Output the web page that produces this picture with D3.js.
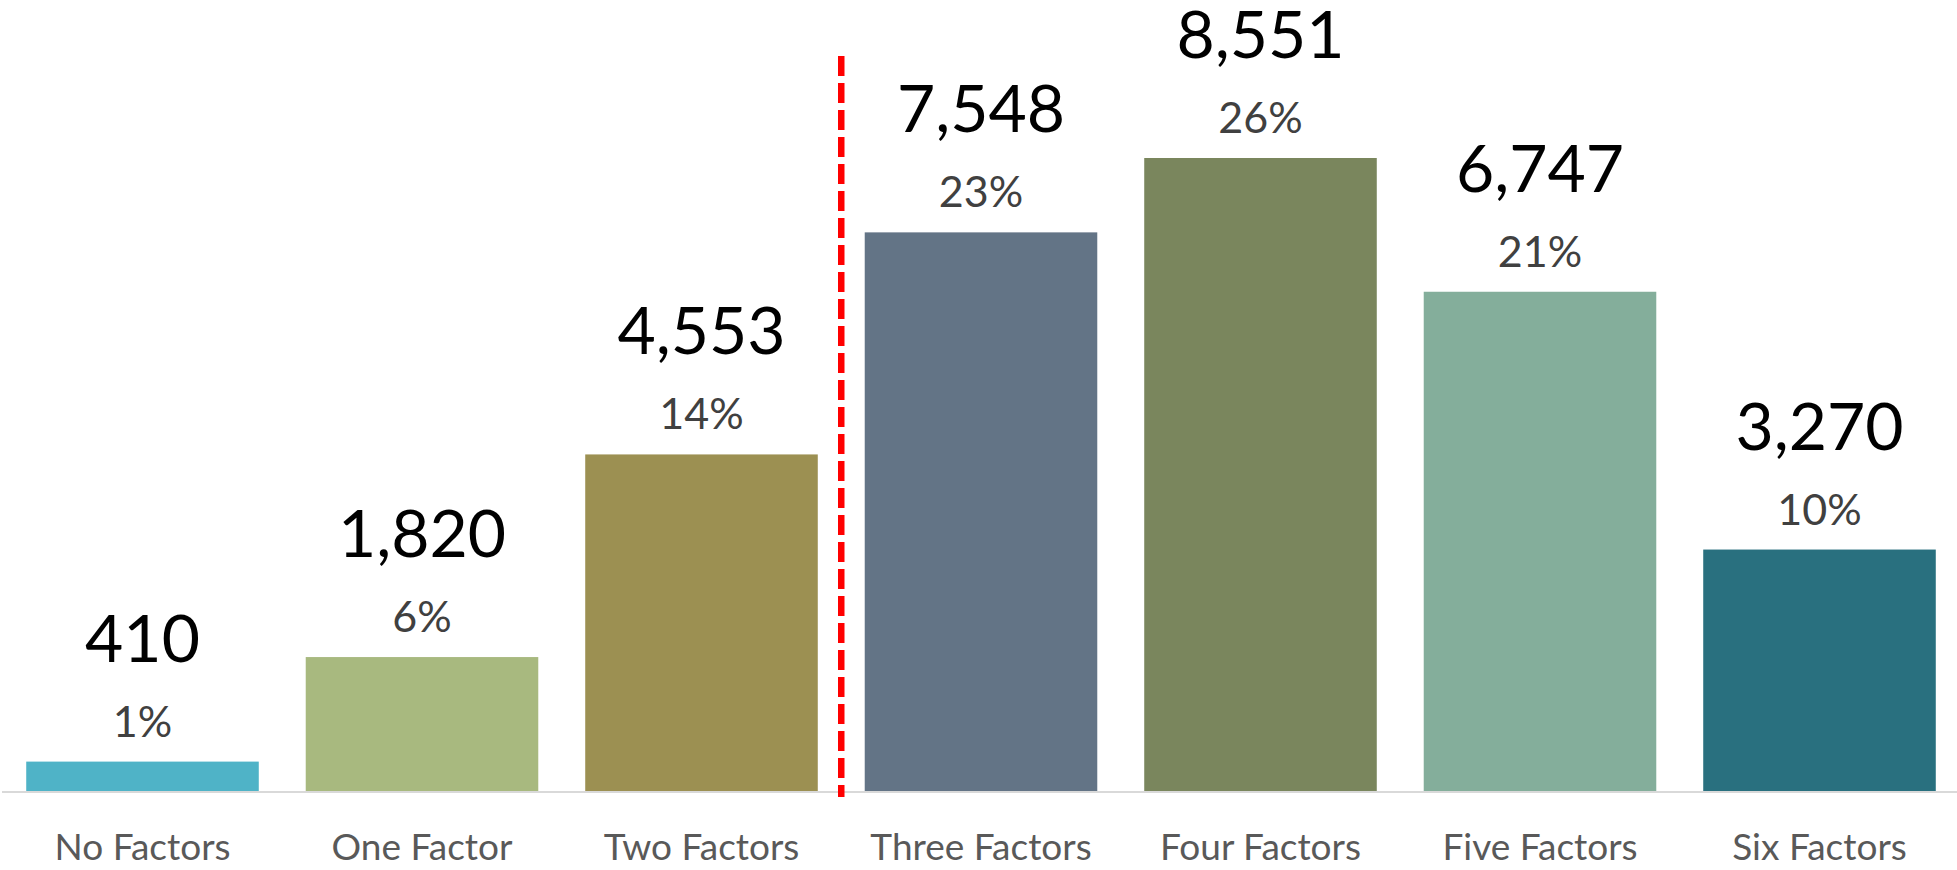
<!DOCTYPE html>
<html>
<head>
<meta charset="utf-8">
<script src="https://cdn.jsdelivr.net/npm/d3@7"></script>
<style>
  html, body { margin: 0; padding: 0; background: #ffffff; }
  svg { display: block; }
  text { font-family: Lato, "Open Sans", "Noto Sans", sans-serif; }
</style>
</head>
<body>
<svg id="chart" width="1957" height="870"></svg>
<script>
// Respondents by number of factors present
const categories = ["No Factors", "One Factor", "Two Factors", "Three Factors", "Four Factors", "Five Factors", "Six Factors"];
const counts = [410, 1820, 4553, 7548, 8551, 6747, 3270];
const shareLabels = ["1%", "6%", "14%", "23%", "26%", "21%", "10%"];
const barColors = ["#4fb3c7", "#a8b97f", "#9c9052", "#637486", "#7a865d", "#84ae9b", "#29707f"];
// The threshold is drawn just before this category
const thresholdCategory = "Three Factors";

const width = 1957, height = 870;
const baseline = 792;

const svg = d3.select("#chart");

const x = d3.scaleBand()
  .domain(categories)
  .range([2.75, 1959.25])
  .paddingInner(0.168)
  .paddingOuter(0.084);

const y = d3.scaleLinear()
  .domain([0, 8551])
  .range([baseline, 158]);

// Bars
svg.append("g")
  .selectAll("rect")
  .data(counts)
  .join("rect")
  .attr("x", (d, i) => x(categories[i]))
  .attr("y", d => y(d))
  .attr("width", x.bandwidth())
  .attr("height", d => y(0) - y(d))
  .attr("fill", (d, i) => barColors[i]);

// Category axis
const xAxis = svg.append("g")
  .attr("transform", `translate(0,${baseline})`)
  .call(d3.axisBottom(x).tickSize(0).tickPadding(0));
xAxis.select(".domain")
  .attr("d", `M2,0H${width}`)
  .attr("stroke", "#d9d9d9")
  .attr("stroke-width", 2);
xAxis.selectAll(".tick text")
  .attr("dy", null)
  .attr("y", 68)
  .attr("fill", "#595959")
  .attr("font-size", 37)
  .style("font-family", "Lato, 'Open Sans', sans-serif");

// Threshold marker between groups
const gap = x.step() - x.bandwidth();
const tx = x(thresholdCategory) - gap / 2;
svg.append("line")
  .attr("x1", tx).attr("x2", tx)
  .attr("y1", 56).attr("y2", baseline + 5)
  .attr("stroke", "#ff0000")
  .attr("stroke-width", 6.5)
  .attr("stroke-dasharray", "20 7");

// Value labels
const fmt = d3.format(",");
svg.append("g")
  .selectAll("text")
  .data(counts)
  .join("text")
  .attr("x", (d, i) => x(categories[i]) + x.bandwidth() / 2)
  .attr("y", d => y(d) - 100)
  .attr("text-anchor", "middle")
  .attr("font-size", 66)
  .attr("fill", "#000000")
  .text(d => fmt(d));

// Share labels
svg.append("g")
  .selectAll("text")
  .data(counts)
  .join("text")
  .attr("x", (d, i) => x(categories[i]) + x.bandwidth() / 2)
  .attr("y", d => y(d) - 25)
  .attr("text-anchor", "middle")
  .attr("font-size", 43)
  .attr("fill", "#404040")
  .text((d, i) => shareLabels[i]);
</script>
</body>
</html>
